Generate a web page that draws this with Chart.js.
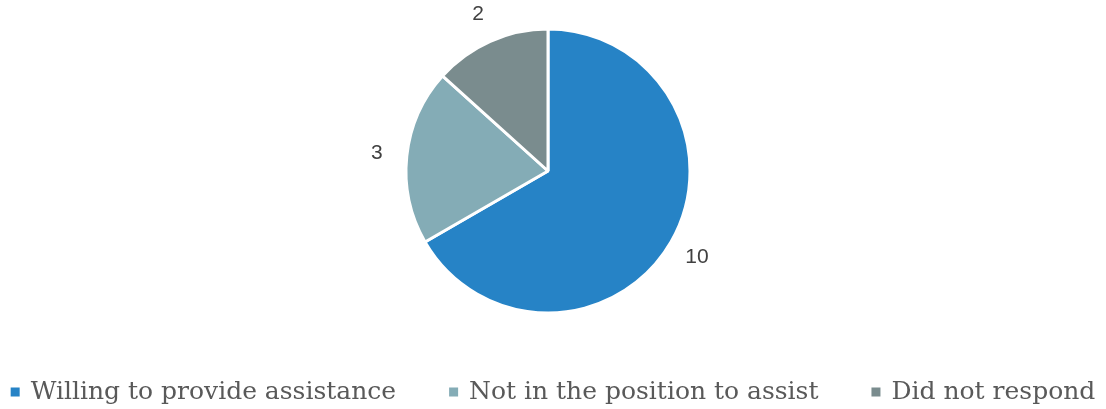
<!DOCTYPE html>
<html>
<head>
<meta charset="utf-8">
<script src="https://cdn.jsdelivr.net/npm/chart.js@4.4.1/dist/chart.umd.min.js"></script>
<style>
  html, body { margin: 0; padding: 0; background: #ffffff; }
  #wrap { width: 1106px; height: 409px; position: relative; }
</style>
</head>
<body>
<div id="wrap"><canvas id="chart"></canvas></div>
<script>
// Survey responses
const categories = ['Willing to provide assistance', 'Not in the position to assist', 'Did not respond'];
const responses = [10, 3, 2];

const sliceColors = ['#2683C6', '#84ACB6', '#7A8C8E'];

// Writes each slice's value just outside its outer edge, on the slice's mid-angle
const outsideLabels = {
  id: 'outsideLabels',
  afterDatasetsDraw(chart) {
    const ctx = chart.ctx;
    const meta = chart.getDatasetMeta(0);
    const values = chart.data.datasets[0].data;
    ctx.save();
    ctx.font = '21px "Liberation Sans", Arial, sans-serif';
    ctx.fillStyle = '#404040';
    ctx.textAlign = 'center';
    ctx.textBaseline = 'middle';
    meta.data.forEach((arc, i) => {
      const p = arc.getProps(['x', 'y', 'startAngle', 'endAngle', 'outerRadius'], true);
      const mid = (p.startAngle + p.endAngle) / 2;
      const r = p.outerRadius + 30;
      ctx.fillText(String(values[i]), p.x + Math.cos(mid) * r, p.y + Math.sin(mid) * r);
    });
    ctx.restore();
  }
};

// Single-row legend along the bottom: small square swatch, then the category name
const bottomLegend = {
  id: 'bottomLegend',
  afterDraw(chart) {
    const ctx = chart.ctx;
    const colors = chart.data.datasets[0].backgroundColor;
    const labels = chart.data.labels;
    const box = 9, boxGap = 11, itemGap = 53, rowY = 392;
    ctx.save();
    ctx.font = '25px "DejaVu Serif", serif';
    ctx.textBaseline = 'middle';
    ctx.textAlign = 'left';
    const widths = labels.map(t => box + boxGap + ctx.measureText(t).width);
    const total = widths.reduce((a, b) => a + b, 0) + itemGap * (labels.length - 1);
    let x = (chart.width - total) / 2;
    labels.forEach((t, i) => {
      ctx.fillStyle = colors[i];
      ctx.fillRect(x, rowY - box / 2, box, box);
      ctx.fillStyle = '#595959';
      ctx.fillText(t, x + box + boxGap, rowY);
      x += widths[i] + itemGap;
    });
    ctx.restore();
  }
};

new Chart(document.getElementById('chart'), {
  type: 'pie',
  data: {
    labels: categories,
    datasets: [{
      data: responses,
      backgroundColor: sliceColors,
      borderColor: '#ffffff',
      borderWidth: 3,
      radius: 142
    }]
  },
  options: {
    responsive: true,
    maintainAspectRatio: false,
    animation: false,
    layout: { padding: { top: 19, right: 10, bottom: 86, left: 0 } },
    plugins: {
      tooltip: { enabled: false },
      legend: { display: false }
    }
  },
  plugins: [outsideLabels, bottomLegend]
});
</script>
</body>
</html>
